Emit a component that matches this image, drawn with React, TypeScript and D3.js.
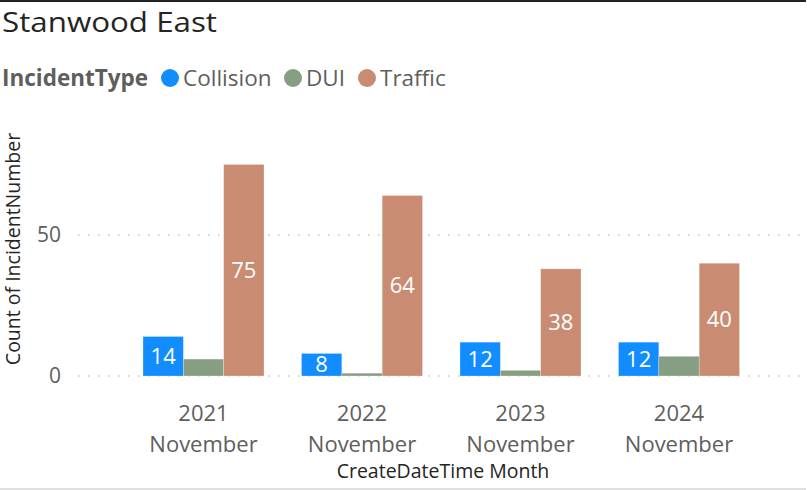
import React from "react";
import * as d3 from "d3";

const categories = ["2021", "2022", "2023", "2024"];
const categoryMonth = ["November", "November", "November", "November"];
const seriesNames = ["Collision", "DUI", "Traffic"];
const collision = [14, 8, 12, 12];
const dui = [6, 1, 2, 7];
const traffic = [75, 64, 38, 40];
const yTicks = [0, 50];
const showLabels = [true, false, true];

const colors = ["#118DFF", "#869E82", "#C98C73"];

const W = 807;
const H = 490;

export default function App() {
  const seriesValues = [collision, dui, traffic];
  const x0 = d3
    .scaleBand<string>()
    .domain(categories)
    .range([124.25, 758.25])
    .paddingInner(0.2366)
    .paddingOuter(0.1183);
  const x1 = d3
    .scaleBand<string>()
    .domain(seriesNames)
    .range([0, x0.bandwidth()]);
  const y = d3.scaleLinear().domain([0, 50]).range([376, 235]);

  const font = "'Segoe UI', 'Open Sans', sans-serif";

  return (
    <svg
      width={W}
      height={H}
      style={{ position: "fixed", left: 0, top: 0, background: "#fff" }}
    >
      <rect x={0} y={0} width={W} height={H} fill="#fff" />
      <line x1={0} x2={806} y1={1} y2={1} stroke="#222" strokeWidth={2} />
      <line x1={0} x2={806} y1={489} y2={489} stroke="#D6D6D6" strokeWidth={1.5} />

      <text
        x={2}
        y={32}
        fontFamily={font}
        fontSize={28}
        fill="#252423"
        textLength={215}
        lengthAdjust="spacingAndGlyphs"
      >
        Stanwood East
      </text>

      <g fontFamily={font} fontSize={22.5}>
        <text x={2} y={86} fontWeight="bold" fill="#605E5C">
          IncidentType
        </text>
        {seriesNames.map((s, i) => {
          const cx = [170, 293, 367][i];
          return (
            <g key={s}>
              <circle cx={cx} cy={78} r={9} fill={colors[i]} />
              <text x={cx + 13} y={86} fill="#605E5C">
                {s}
              </text>
            </g>
          );
        })}
      </g>

      {yTicks.map((t) => (
        <g key={t}>
          <line
            x1={78}
            x2={802}
            y1={y(t)}
            y2={y(t)}
            stroke="#C8C6C4"
            strokeWidth={1.5}
            strokeDasharray="1.5 8.5"
          />
          <text
            x={61}
            y={y(t)}
            dy="0.35em"
            textAnchor="end"
            fontFamily={font}
            fontSize={21}
            fill="#605E5C"
          >
            {t}
          </text>
        </g>
      ))}

      <text
        transform={`translate(20,249) rotate(-90)`}
        textAnchor="middle"
        fontFamily={font}
        fontSize={19.5}
        fill="#252423"
      >
        Count of IncidentNumber
      </text>

      {categories.map((c, ci) => (
        <g key={c} transform={`translate(${x0(c)},0)`}>
          {seriesNames.map((s, si) => {
            const v = seriesValues[si][ci];
            const bx = x1(s)!;
            const top = y(v);
            const h = y(0) - top;
            return (
              <g key={s}>
                <rect
                  x={bx}
                  y={top}
                  width={x1.bandwidth()}
                  height={h}
                  fill={colors[si]}
                  stroke="rgba(255,255,255,0.5)"
                  strokeWidth={0.5}
                />
                {showLabels[si] && (
                  <text
                    x={bx + x1.bandwidth() / 2}
                    y={top + h / 2}
                    dy="0.35em"
                    textAnchor="middle"
                    fontFamily={font}
                    fontSize={22}
                    fill="#fff"
                  >
                    {v}
                  </text>
                )}
              </g>
            );
          })}
          <text
            x={x0.bandwidth() / 2}
            y={421}
            textAnchor="middle"
            fontFamily={font}
            fontSize={22}
            fill="#605E5C"
          >
            {c}
          </text>
          <text
            x={x0.bandwidth() / 2}
            y={452}
            textAnchor="middle"
            fontFamily={font}
            fontSize={22}
            fill="#605E5C"
          >
            {categoryMonth[ci]}
          </text>
        </g>
      ))}

      <text
        x={443}
        y={478}
        textAnchor="middle"
        fontFamily={font}
        fontSize={19.5}
        fill="#252423"
      >
        CreateDateTime Month
      </text>
    </svg>
  );
}
